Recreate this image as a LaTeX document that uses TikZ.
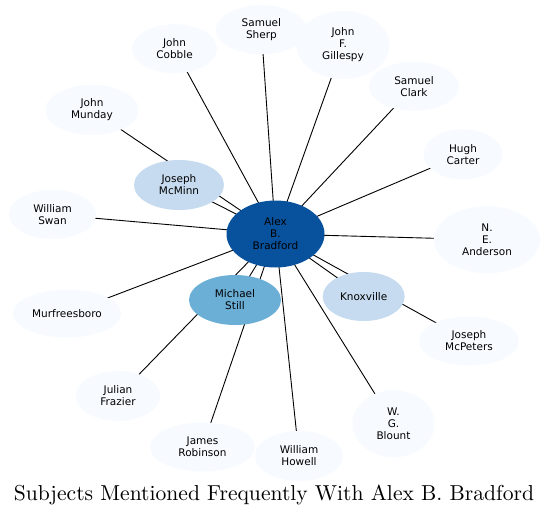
\documentclass[tikz,border=0pt]{standalone}
\usepackage{fontspec}
\newfontfamily\dejavu{DejaVu Sans}
\usetikzlibrary{shapes.geometric,backgrounds}
\definecolor{bdark}{HTML}{08519C}
\definecolor{bmid}{HTML}{6BAED6}
\definecolor{blight}{HTML}{C6DBEF}
\definecolor{bpale}{HTML}{F7FBFF}
\begin{document}
\begin{tikzpicture}[x=1pt,y=-1pt,
  nd/.style 2 args={ellipse, draw=none, fill=bpale, inner sep=0pt,
    minimum width=#1pt, minimum height=#2pt, align=center,
    font=\dejavu\fontsize{10.5}{12}\selectfont},
  link/.style={draw=black, line width=0.9pt}]
\useasboundingbox (0,0) rectangle (549,517);
% nodes
\node[nd={98}{67}, fill=bdark] (alex) at (275.5,234) {Alex\\B.\\Bradford};
\node[nd={90}{50}, fill=blight] (mcminn) at (179,185) {Joseph\\McMinn};
\node[nd={92}{50}, fill=bmid] (still) at (235,300) {Michael\\Still};
\node[nd={82}{49}, fill=blight] (knox) at (363.7,296.5) {Knoxville};
\node[nd={85}{49}] (cobble) at (174.5,48.7) {John\\Cobble};
\node[nd={91}{49}] (sherp) at (261.4,29.7) {Samuel\\Sherp};
\node[nd={93}{68}] (gillespy) at (343,45) {John\\F.\\Gillespy};
\node[nd={90}{49}] (clark) at (414,86.3) {Samuel\\Clark};
\node[nd={93}{50}] (munday) at (92,110) {John\\Munday};
\node[nd={79}{50}] (carter) at (463,154.3) {Hugh\\Carter};
\node[nd={87}{49}] (swan) at (52.5,214.5) {William\\Swan};
\node[nd={106}{67}] (anderson) at (487,239.7) {N.\\E.\\Anderson};
\node[nd={108}{48}] (murf) at (67,313.5) {Murfreesboro};
\node[nd={100}{49}] (mcpeters) at (469,341) {Joseph\\McPeters};
\node[nd={84}{50}] (frazier) at (118,396) {Julian\\Frazier};
\node[nd={105}{49}] (robinson) at (202.5,447) {James\\Robinson};
\node[nd={88}{50}] (howell) at (299,456) {William\\Howell};
\node[nd={82}{67}] (blount) at (393.5,423.7) {W.\\G.\\Blount};
\node[anchor=base, inner sep=0pt] (title) at (274,500.7)
  {\scalebox{2.16}{\fontsize{10}{12}\selectfont Subjects Mentioned Frequently With Alex B. Bradford}};
% edges (drawn beneath the nodes)
\begin{scope}[on background layer]
\fill[white] (0,0) rectangle (549,517);
\foreach \t in {mcminn,still,knox,cobble,sherp,gillespy,clark,munday,carter,swan,
                anderson,murf,mcpeters,frazier,robinson,howell,blount}
  \draw[link] (alex.center) -- (\t.center);
\end{scope}
\end{tikzpicture}
\end{document}
